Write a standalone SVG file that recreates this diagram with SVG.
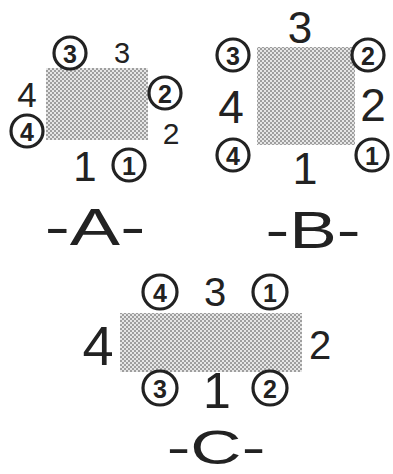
<svg xmlns="http://www.w3.org/2000/svg" width="393" height="474" viewBox="0 0 393 474">
<defs>
<pattern id="dots" width="4" height="4" patternUnits="userSpaceOnUse">
<rect width="4" height="4" fill="#e6e6e6"/>
<circle cx="1" cy="1" r="0.95" fill="#808080"/>
<circle cx="3" cy="3" r="0.95" fill="#808080"/>
</pattern>
</defs>
<style>
.sheet{fill:url(#dots);}
.ring{fill:#fff;stroke:#222;stroke-width:3.2;}
.cn{font-family:"Liberation Sans",Arial,sans-serif;font-size:25px;font-weight:bold;fill:#222;text-anchor:middle;dominant-baseline:central;}
.d{font-family:"Liberation Sans",Arial,sans-serif;fill:#222;text-anchor:middle;dominant-baseline:central;}
.lbl{font-family:"Liberation Sans",Arial,sans-serif;fill:#222;text-anchor:middle;}
</style>
<rect width="393" height="474" fill="#fff"/>
<g id="figA">
<rect class="sheet" x="46" y="68" width="102" height="72"/>
<g id="A-c3"><circle class="ring" cx="70" cy="53" r="16"/><text class="cn" x="70" y="54">3</text></g>
<text class="d" x="122" y="53" font-size="29">3</text>
<text class="d" x="27" y="94" font-size="35">4</text>
<g id="A-c2"><circle class="ring" cx="165" cy="93" r="16"/><text class="cn" x="165" y="94">2</text></g>
<g id="A-c4"><circle class="ring" cx="27" cy="131" r="16"/><text class="cn" x="27" y="132">4</text></g>
<text class="d" x="171" y="133" font-size="30">2</text>
<text class="d" x="85" y="166" font-size="42">1</text>
<g id="A-c1"><circle class="ring" cx="129" cy="165" r="16"/><text class="cn" x="129" y="166">1</text></g>
<text class="lbl" transform="translate(95,245) scale(1.45,1)" x="0" y="0" font-size="52">-A-</text>
</g>
<g id="figB">
<rect class="sheet" x="257" y="47" width="98" height="98"/>
<text class="d" x="300" y="27" font-size="44">3</text>
<g id="B-c3"><circle class="ring" cx="233" cy="55" r="16"/><text class="cn" x="233" y="56">3</text></g>
<g id="B-c2"><circle class="ring" cx="368" cy="55" r="16"/><text class="cn" x="368" y="56">2</text></g>
<text class="d" x="231" y="107" font-size="46">4</text>
<text class="d" x="373" y="105" font-size="46">2</text>
<g id="B-c4"><circle class="ring" cx="233" cy="155" r="16"/><text class="cn" x="233" y="156">4</text></g>
<g id="B-c1"><circle class="ring" cx="372" cy="155" r="16"/><text class="cn" x="372" y="156">1</text></g>
<text class="d" x="305" y="168" font-size="45">1</text>
<text class="lbl" transform="translate(313,248) scale(1.4,1)" x="0" y="0" font-size="51">-B-</text>
</g>
<g id="figC">
<rect class="sheet" x="120" y="313" width="182" height="59"/>
<g id="C-c4"><circle class="ring" cx="160" cy="292" r="17"/><text class="cn" x="160" y="293">4</text></g>
<text class="d" x="215" y="292" font-size="40">3</text>
<g id="C-c1"><circle class="ring" cx="270" cy="292" r="17"/><text class="cn" x="270" y="293">1</text></g>
<text class="d" x="98" y="345" font-size="56">4</text>
<text class="d" x="320" y="345" font-size="40">2</text>
<g id="C-c3"><circle class="ring" cx="160" cy="388" r="17"/><text class="cn" x="160" y="389">3</text></g>
<text class="d" x="217" y="391" font-size="50">1</text>
<g id="C-c2"><circle class="ring" cx="270" cy="388" r="17"/><text class="cn" x="270" y="389">2</text></g>
<text class="lbl" transform="translate(216,464) scale(1.45,1)" x="0" y="0" font-size="49">-C-</text>
</g>
</svg>
